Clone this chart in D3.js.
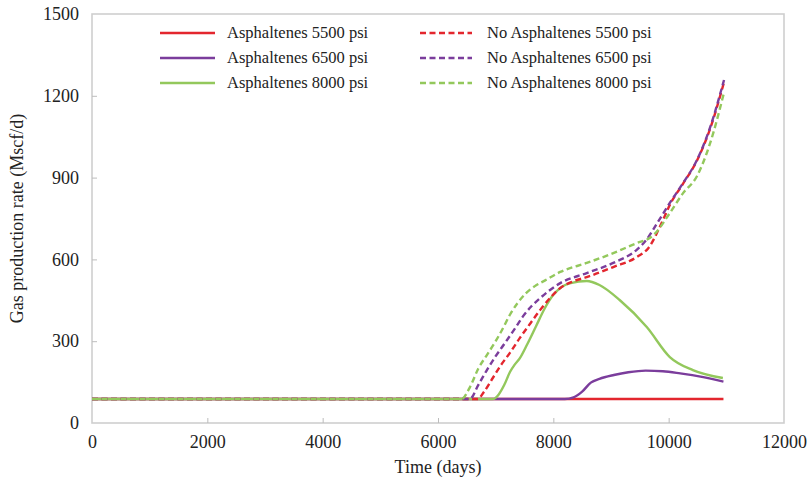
<!DOCTYPE html>
<html>
<head>
<meta charset="utf-8">
<script src="https://cdn.jsdelivr.net/npm/d3@7"></script>
<style>
  body { margin: 0; background: #fff; }
  svg { display: block; }
</style>
</head>
<body>
<div id="chart"></div>
<script>
// ---- data ----
const xTicks = [0, 2000, 4000, 6000, 8000, 10000, 12000];
const yTicks = [0, 300, 600, 900, 1200, 1500];

const asph5500_t = [0, 2000, 4000, 6000, 8000, 10000, 10950];
const asph5500_v = [88, 88, 88, 88, 88, 88, 88];

const asph6500_t = [0, 8200, 8350, 8500, 8650, 8800, 9050, 9300, 9600, 9900, 10200, 10600, 10950];
const asph6500_v = [88, 88, 94, 115, 148, 162, 176, 186, 192, 190, 182, 168, 152];

const asph8000_t = [0, 6950, 7050, 7150, 7250, 7330, 7420, 7550, 7700, 7850, 8000, 8150, 8300, 8580, 8800, 9150, 9620, 10020, 10420, 10940];
const asph8000_v = [88, 88, 104, 140, 188, 214, 238, 290, 355, 420, 470, 500, 513, 521, 506, 451, 352, 242, 194, 165];

const noAsph5500_t = [0, 6690, 6800, 6950, 7100, 7250, 7420, 7600, 7770, 7950, 8120, 8350, 8580, 9040, 9450, 9650, 9900, 10020, 10250, 10490, 10720, 10960];
const noAsph5500_v = [88, 88, 115, 165, 215, 258, 312, 365, 414, 460, 495, 520, 535, 572, 609, 642, 744, 800, 878, 962, 1080, 1250];

const noAsph6500_t = [0, 6550, 6700, 6850, 7000, 7150, 7330, 7470, 7620, 7770, 8120, 8580, 9040, 9450, 9600, 9800, 10020, 10250, 10490, 10720, 10960];
const noAsph6500_v = [88, 88, 140, 195, 245, 290, 345, 390, 428, 458, 513, 550, 587, 636, 668, 733, 807, 880, 964, 1085, 1258];

const noAsph8000_t = [0, 6410, 6550, 6700, 6850, 7000, 7110, 7250, 7380, 7520, 7680, 7850, 8120, 8580, 9040, 9450, 9650, 9750, 10020, 10250, 10490, 10720, 10960];
const noAsph8000_v = [88, 88, 130, 200, 250, 300, 341, 398, 440, 475, 502, 522, 554, 587, 623, 660, 676, 692, 770, 843, 905, 1027, 1212];

const seriesNames = [
  'Asphaltenes 5500 psi', 'Asphaltenes 6500 psi', 'Asphaltenes 8000 psi',
  'No Asphaltenes 5500 psi', 'No Asphaltenes 6500 psi', 'No Asphaltenes 8000 psi'
];
const seriesT = [asph5500_t, asph6500_t, asph8000_t, noAsph5500_t, noAsph6500_t, noAsph8000_t];
const seriesV = [asph5500_v, asph6500_v, asph8000_v, noAsph5500_v, noAsph6500_v, noAsph8000_v];

// ---- layout ----
const width = 809, height = 480;
const plot = { left: 92, right: 784, top: 14, bottom: 423 };
const colors = ['#e3262e', '#7b3d9c', '#93c85c'];
const fontFam = '"Liberation Serif", "Times New Roman", serif';
const axisFont = '18px';

const svg = d3.select('#chart').append('svg')
  .attr('width', width)
  .attr('height', height);

const x = d3.scaleLinear().domain([0, 12000]).range([plot.left, plot.right]);
const y = d3.scaleLinear().domain([0, 1500]).range([plot.bottom, plot.top]);

// frame
svg.append('rect')
  .attr('x', plot.left).attr('y', plot.top)
  .attr('width', plot.right - plot.left)
  .attr('height', plot.bottom - plot.top)
  .attr('fill', 'none')
  .attr('stroke', '#cfcfcf')
  .attr('stroke-width', 1.6);

// x axis (ticks inward)
const xAxis = svg.append('g')
  .attr('transform', 'translate(0,' + plot.bottom + ')')
  .call(d3.axisBottom(x).tickValues(xTicks).tickSize(-5).tickPadding(12).tickFormat(d3.format('d')));
xAxis.select('.domain').remove();
xAxis.selectAll('.tick line').attr('stroke', '#bdbdbd')
  .attr('display', d => (d === 0 || d === 12000) ? 'none' : null);
xAxis.selectAll('text')
  .attr('fill', '#222')
  .style('font-family', fontFam)
  .style('font-size', axisFont);

// y axis (ticks inward)
const yAxis = svg.append('g')
  .attr('transform', 'translate(' + plot.left + ',0)')
  .call(d3.axisLeft(y).tickValues(yTicks).tickSize(-5).tickPadding(13).tickFormat(d3.format('d')));
yAxis.select('.domain').remove();
yAxis.selectAll('.tick line').attr('stroke', '#bdbdbd')
  .attr('display', d => (d === 0 || d === 1500) ? 'none' : null);
yAxis.selectAll('text')
  .attr('fill', '#222')
  .style('font-family', fontFam)
  .style('font-size', axisFont);

// axis titles
svg.append('text')
  .attr('x', (plot.left + plot.right) / 2)
  .attr('y', 473)
  .attr('text-anchor', 'middle')
  .attr('fill', '#222')
  .style('font-family', fontFam)
  .style('font-size', axisFont)
  .text('Time (days)');

svg.append('g')
  .attr('transform', 'translate(23,' + ((plot.top + plot.bottom) / 2) + ')')
  .append('text')
    .attr('transform', 'rotate(-90)')
    .attr('text-anchor', 'middle')
    .attr('fill', '#222')
    .style('font-family', fontFam)
    .style('font-size', axisFont)
    .text('Gas production rate (Mscf/d)');

// lines
const line = d3.line()
  .x(d => x(d[0]))
  .y(d => y(d[1]))
  .curve(d3.curveMonotoneX);

// solid first, dashed drawn on top
seriesNames.forEach(function(name, i) {
  const pts = seriesT[i].map((t, j) => [t, seriesV[i][j]]);
  svg.append('path')
    .datum(pts)
    .attr('fill', 'none')
    .attr('stroke', colors[i % 3])
    .attr('stroke-width', 2.4)
    .attr('stroke-dasharray', i >= 3 ? '6,3.5' : null)
    .attr('d', line);
});

// legend
const legendRows = [33, 58, 83];
const legendCols = [{ x1: 160, x2: 215, tx: 227 }, { x1: 420, x2: 472, tx: 487 }];
seriesNames.forEach(function(name, i) {
  const col = legendCols[Math.floor(i / 3)];
  const ry = legendRows[i % 3];
  svg.append('line')
    .attr('x1', col.x1).attr('x2', col.x2)
    .attr('y1', ry).attr('y2', ry)
    .attr('stroke', colors[i % 3])
    .attr('stroke-width', 2.4)
    .attr('stroke-dasharray', i >= 3 ? '6,3.5' : null);
  svg.append('text')
    .attr('x', col.tx)
    .attr('y', ry)
    .attr('dy', '0.33em')
    .attr('fill', '#222')
    .style('font-family', fontFam)
    .style('font-size', '16.5px')
    .text(name);
});
</script>
</body>
</html>
